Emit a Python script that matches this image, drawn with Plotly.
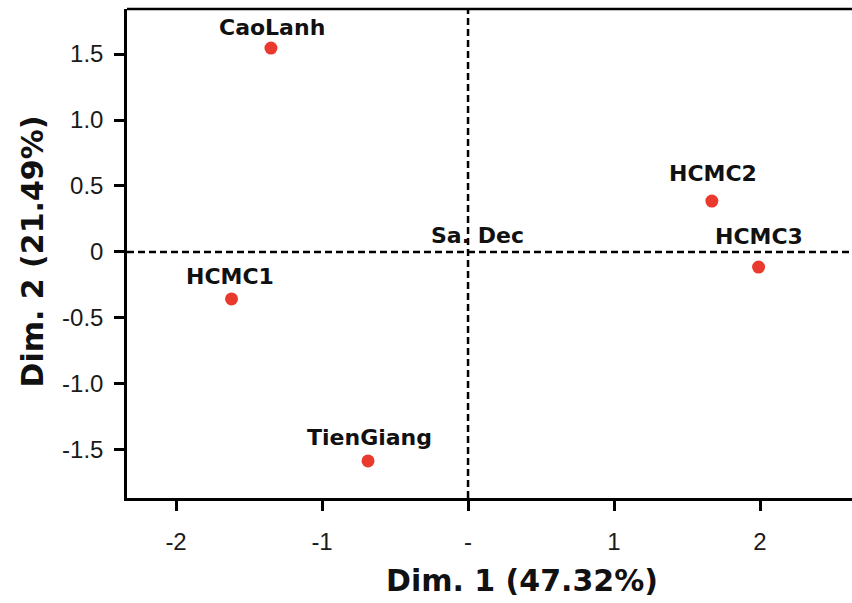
import plotly.graph_objects as go

# ---- data ----
sites = ["CaoLanh", "HCMC2", "HCMC3", "HCMC1", "TienGiang", "Sa. Dec"]
dim1 = [-1.35, 1.67, 1.99, -1.62, -0.685, 0.0]
dim2 = [1.545, 0.386, -0.114, -0.356, -1.583, 0.0]
point_visible = [1, 1, 1, 1, 1, 0]
label_dx = [1, 1, 0, -2, 1, 9]
label_dy = [21, 28, 31, 22, 23, 16]

x_tickvals = [-2, -1, 0, 1, 2]
x_ticktext = ["-2", "-1", "-", "1", "2"]
y_tickvals = [-1.5, -1.0, -0.5, 0, 0.5, 1.0, 1.5]
y_ticktext = ["-1.5", "-1.0", "-0.5", "0", "0.5", "1.0", "1.5"]

x_title = "Dim. 1 (47.32%)"
y_title = "Dim. 2 (21.49%)"

RED = "#EA3A2E"
BOLD = "DejaVu Sans"
LABEL_FONT = dict(family=BOLD, size=22, color="#111111", weight="bold")
TITLE_FONT = dict(family=BOLD, size=30, color="#111111", weight="bold")

fig = go.Figure()
fig.add_trace(go.Scatter(
    x=dim1, y=dim2, mode="markers",
    marker=dict(size=13, color=[RED if v else "rgba(0,0,0,0)" for v in point_visible],
                line=dict(width=0)),
    showlegend=False, hoverinfo="text", text=sites,
))

for s, x, y, dx, dy in zip(sites, dim1, dim2, label_dx, label_dy):
    fig.add_annotation(x=x, y=y, text=s, showarrow=False, xshift=dx, yshift=dy,
                       font=LABEL_FONT, xanchor="center", yanchor="middle")

# axis titles
fig.add_annotation(xref="paper", yref="paper", x=0.5, y=0, xshift=32, yshift=-82,
                   text=x_title, showarrow=False, font=TITLE_FONT,
                   xanchor="center", yanchor="middle")
fig.add_annotation(xref="paper", yref="paper", x=0, y=0.5, xshift=-95, yshift=2,
                   text=y_title, showarrow=False, font=TITLE_FONT, textangle=-90,
                   xanchor="center", yanchor="middle")

# reference dashed lines
fig.add_shape(type="line", xref="x", yref="paper", x0=0, x1=0, y0=0, y1=1,
              line=dict(color="black", width=2.5, dash="7px,4px"), layer="below")
fig.add_shape(type="line", xref="paper", yref="y", x0=0, x1=1, y0=0, y1=0,
              line=dict(color="black", width=2.5, dash="7px,4px"), layer="below")
# top border
fig.add_shape(type="line", xref="paper", yref="paper", x0=0, x1=1, y0=1, y1=1,
              line=dict(color="black", width=2.5))

axis_common = dict(
    showgrid=False, zeroline=False, showline=True, linecolor="black", linewidth=2.5,
    ticks="outside", ticklen=10, tickwidth=2.5, tickcolor="black",
    tickfont=dict(family="Liberation Sans", size=24, color="#1a1a1a"),
)

fig.update_layout(
    width=852, height=603,
    margin=dict(l=127, r=0, t=9, b=105, autoexpand=False),
    plot_bgcolor="white", paper_bgcolor="white",
    xaxis=dict(range=[-2.336, 2.63], tickvals=x_tickvals, ticktext=x_ticktext,
               ticklabelstandoff=10, **axis_common),
    yaxis=dict(range=[-1.864, 1.841], tickvals=y_tickvals, ticktext=y_ticktext,
               ticklabelstandoff=6, **axis_common),
)

fig.write_html("out.html", config={"displayModeBar": False},
               post_script="document.body.style.margin='0';")
